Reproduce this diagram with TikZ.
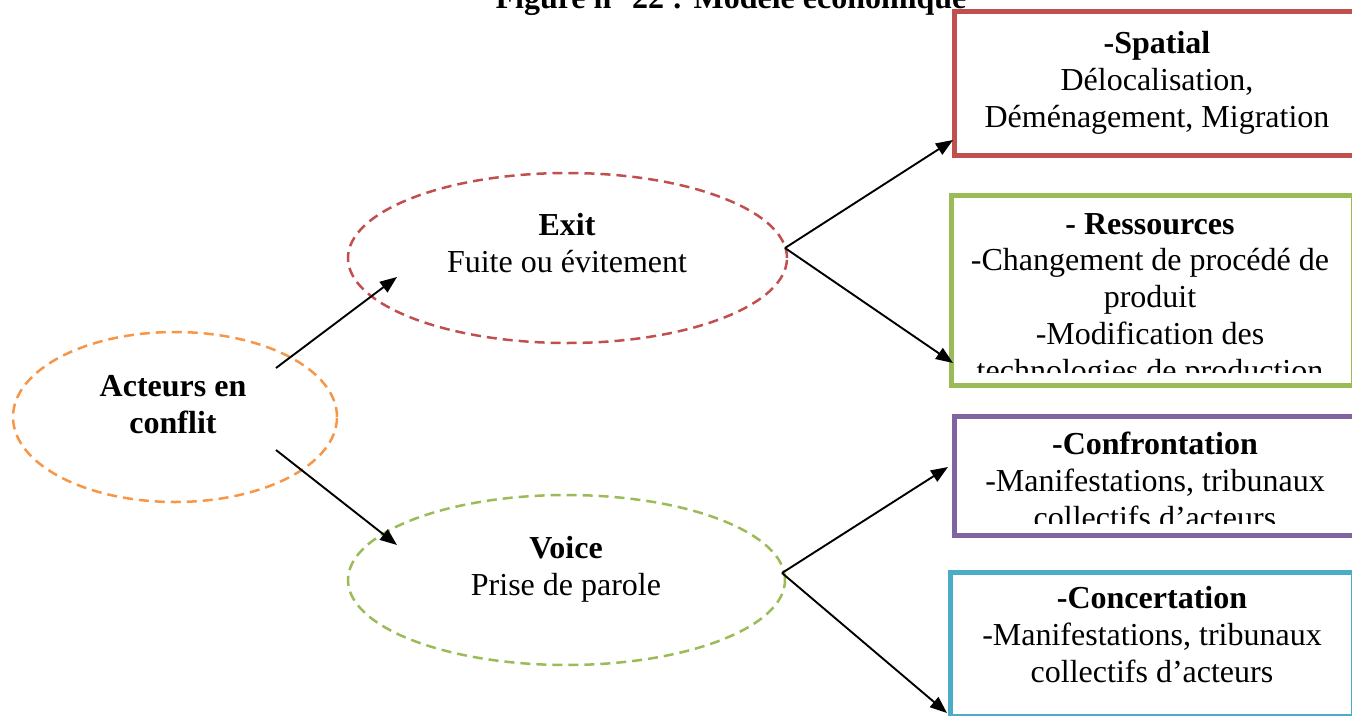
\documentclass[tikz,border=0pt]{standalone}
\usepackage{fontspec}
\setmainfont{Liberation Serif}
\usetikzlibrary{arrows.meta,shapes.geometric,calc}

\definecolor{cRed}{HTML}{C0504D}
\definecolor{cGreen}{HTML}{9BBB59}
\definecolor{cPurple}{HTML}{8064A2}
\definecolor{cCyan}{HTML}{4BACC6}
\definecolor{cOrange}{HTML}{F79646}

\begin{document}
\begin{tikzpicture}[x=1pt,y=-1pt,
  % labels are placed by the baseline of their last line
  lbl/.style={font=\fontsize{32}{36.7}\selectfont, align=center, inner sep=0pt, anchor=base},
  oval/.style={ellipse, draw=#1, dash pattern=on 10pt off 6pt, line width=2.5pt,
               inner sep=0pt, outer sep=0pt},
  panel/.style={rectangle, draw=#1, line width=5pt, inner sep=0pt, outer sep=0pt},
  link/.style={-{Triangle[length=17pt,width=13pt]}, line width=1.9pt}
]
\useasboundingbox (0,0) rectangle (1352,715);
\clip (0,0) rectangle (1352,715);

% title (its upper half runs off the page)
\node[lbl, font=\fontsize{32}{36.7}\selectfont\bfseries] (title) at (731,8)
  {Figure n° 22 : Modèle économique};

% dashed ovals
\node[oval=cOrange, minimum width=324pt, minimum height=170pt] (acteurs) at (175,417) {};
\node[oval=cRed,    minimum width=439pt, minimum height=170pt] (exit)    at (567.5,258) {};
\node[oval=cGreen,  minimum width=437pt, minimum height=170pt] (voice)   at (566.5,580) {};

\node[lbl, font=\fontsize{32}{36.7}\selectfont\bfseries] (acteurstxt) at (173,433)
  {Acteurs en\\conflit};
\node[lbl] (exittxt) at (567,272) {\textbf{Exit}\\Fuite ou évitement};
\node[lbl] (voicetxt) at (566,595) {\textbf{Voice}\\Prise de parole};

% outcome panels
\node[panel=cRed,    minimum width=408pt,   minimum height=144pt] (spatial)   at (1158,83) {};
\node[panel=cGreen,  minimum width=402.5pt, minimum height=190pt] (ressources) at (1152.25,290) {};
\node[panel=cPurple, minimum width=408pt,   minimum height=119pt] (confront)  at (1158,475.5) {};
\node[panel=cCyan,   minimum width=403.5pt, minimum height=144pt] (concert)   at (1151.75,644) {};

\node[lbl] (spatialtxt) at (1157,127)
  {\textbf{-Spatial}\\Délocalisation,\\Déménagement, Migration};
\begin{scope}
  \clip (953,197) rectangle (1352,372);
  \node[lbl] (ressourcestxt) at (1150,381)
    {\textbf{- Ressources}\\-Changement de procédé de\\produit\\-Modification des\\technologies de production};
\end{scope}
\begin{scope}
  \clip (956,418) rectangle (1352,523);
  \node[lbl] (confronttxt) at (1155,528)
    {\textbf{-Confrontation}\\-Manifestations, tribunaux\\collectifs d’acteurs};
\end{scope}
\node[lbl] (concerttxt) at (1152,682)
  {\textbf{-Concertation}\\-Manifestations, tribunaux\\collectifs d’acteurs};

% connectors
\draw[link] ($(acteurs.center)+(101,-49)$) -- ($(exit.center)+(-170.5,19)$);
\draw[link] ($(acteurs.center)+(101,33)$)  -- ($(voice.center)+(-169.5,-35)$);
\draw[link] ($(exit.center)+(217.5,-10)$)  -- ($(spatial.south west)+(-1,-15)$);
\draw[link] ($(exit.center)+(217.5,-10)$)  -- ($(ressources.south west)+(2,-22)$);
\draw[link] ($(voice.center)+(215.5,-7)$)  -- ($(confront.north west)+(-6,51)$);
\draw[link] ($(voice.center)+(215.5,-7)$)  -- ($(concert.south west)+(-3,-3)$);
\end{tikzpicture}
\end{document}
